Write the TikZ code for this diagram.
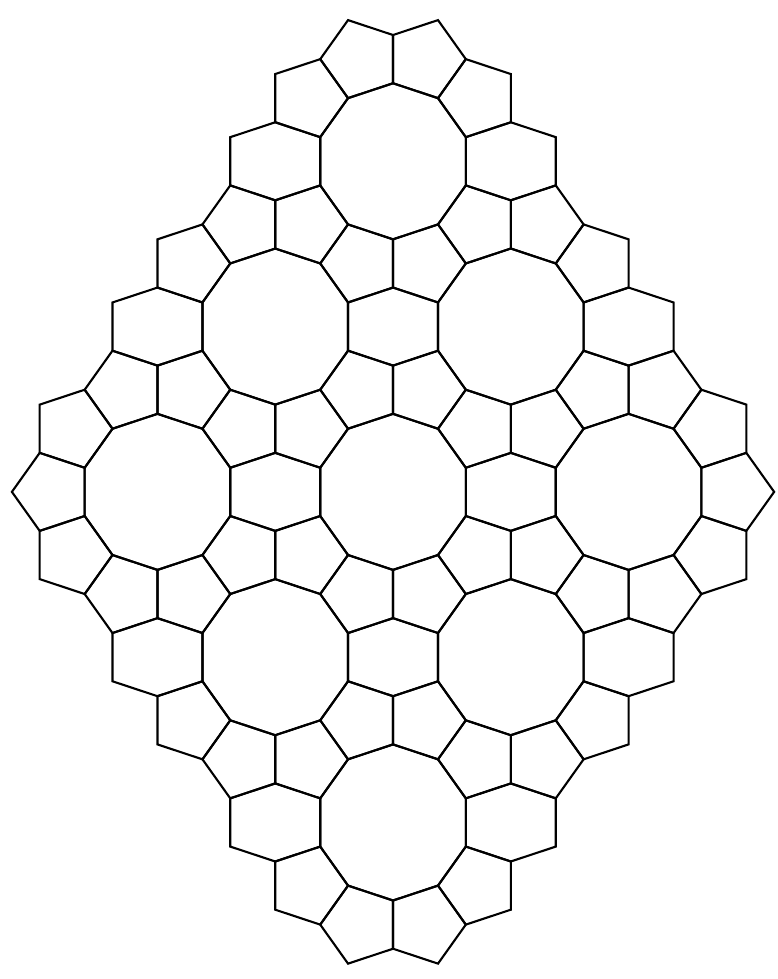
\documentclass[tikz,border=0pt]{standalone}
\usetikzlibrary{calc}
\tikzset{
  tile/.style={draw=black, line width=1.05pt},
  decagon/.pic={
    \draw[tile] (90:1.618034) \foreach \k in {1,...,9} { -- (90-36*\k:1.618034) } -- cycle;
  },
  pentagon/.pic={
    \draw[tile] (#1:0.850651) \foreach \k in {1,...,4} { -- (#1+72*\k:0.850651) } -- cycle;
  },
  hexagon/.pic={
    \draw[tile] (-0.951057,0.5) -- (0,0.809017) -- (0.951057,0.5)
      -- (0.951057,-0.5) -- (0,-0.809017) -- (-0.951057,-0.5) -- cycle;
  }
}

\begin{document}
\begin{tikzpicture}[x=23.65pt, y=24.115pt]
\useasboundingbox (-8.309,-16.954) rectangle (8.118,3.344);
\foreach \i in {0,1,2} {
  \foreach \j in {0,1,2} {
    \pgfmathtruncatemacro\cell{10*\i+\j}
    \coordinate (deca-\i-\j) at ({(\j-\i)*2.489899},{-(\i+\j)*3.427051});
    \pic at (deca-\i-\j) {decagon};
    \foreach \t in {36,72,108,144} {
      \pic at ($(deca-\i-\j)+(\t:2.227033)$) {pentagon=\t};
    }
    \ifnum\i=2
      \foreach \t in {-144,-108} {
        \pic at ($(deca-\i-\j)+(\t:2.227033)$) {pentagon=\t};
      }
    \fi
    \ifnum\j=2
      \foreach \t in {-72,-36} {
        \pic at ($(deca-\i-\j)+(\t:2.227033)$) {pentagon=\t};
      }
    \fi
    \ifnum\cell=2
      \pic at ($(deca-\i-\j)+(0:2.227033)$) {pentagon=0};
    \else
      \pic at ($(deca-\i-\j)+(2.489899,0)$) {hexagon};
    \fi
    \ifnum\cell=20
      \pic at ($(deca-\i-\j)+(180:2.227033)$) {pentagon=180};
    \else
      \ifnum\i=2
        \pic at ($(deca-\i-\j)+(-2.489899,0)$) {hexagon};
      \else
        \ifnum\j=0
          \pic at ($(deca-\i-\j)+(-2.489899,0)$) {hexagon};
        \fi
      \fi
    \fi
  }
}
\end{tikzpicture}
\end{document}
